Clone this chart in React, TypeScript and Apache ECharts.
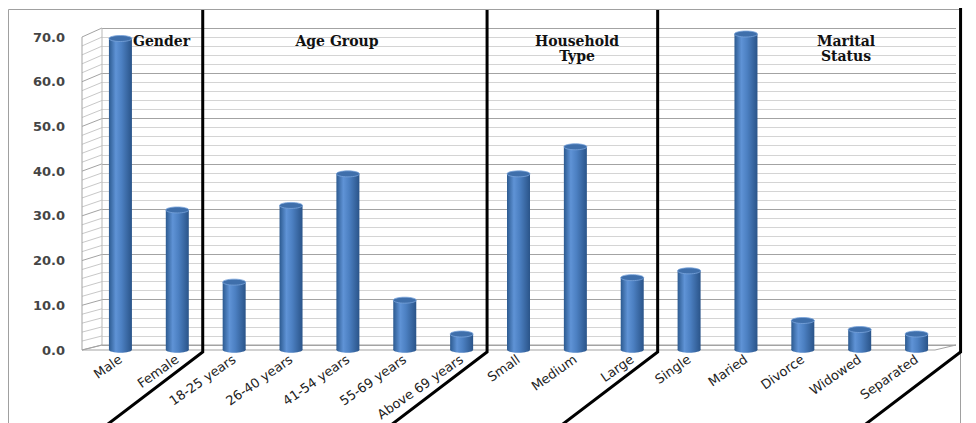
import React, { useEffect, useRef } from "react";
import * as echarts from "echarts";

const categories = [
  "Male", "Female",
  "18-25 years", "26-40 years", "41-54 years", "55-69 years", "Above 69 years",
  "Small", "Medium", "Large",
  "Single", "Maried", "Divorce", "Widowed", "Separated",
];
const values = [69, 31, 15, 32, 39, 11, 3.5, 39, 45, 16, 17.5, 70, 6.5, 4.5, 3.5];
const groupSizes = [2, 5, 3, 5];
const groupTitles = ["Gender", "Age Group", "Household\nType", "Marital\nStatus"];
const yMin = 0;
const yMax = 70;
const yStep = 10;

export default function App() {
  const ref = useRef<HTMLDivElement>(null);

  useEffect(() => {
    document.body.style.margin = "0";
    if (!ref.current) return;
    const chart = echarts.init(ref.current, undefined, { renderer: "svg" });

    const barFill = {
      type: "linear", x: 0, y: 0, x2: 1, y2: 0,
      colorStops: [
        { offset: 0, color: "#2c5a90" },
        { offset: 0.3, color: "#5f93d6" },
        { offset: 0.55, color: "#4c80c2" },
        { offset: 1, color: "#2a5489" },
      ],
    };

    const option: any = {
      animation: false,
      backgroundColor: "#ffffff",
      grid: [
        { left: 102, right: 20, top: 28, bottom: 78 },
        { left: 92, right: 31, top: 34, bottom: 73 },
        { left: 92, right: 31, top: 37, bottom: 73 },
      ],
      xAxis: [
        { type: "value", gridIndex: 0, show: false, min: 0, max: 1 },
        {
          type: "category", gridIndex: 1, data: categories,
          axisLine: { show: false }, axisTick: { show: false },
          axisLabel: {
            interval: 0, rotate: 35, margin: 8,
            fontFamily: "DejaVu Sans", fontSize: 13, color: "#222",
          },
        },
        { type: "value", gridIndex: 2, show: false, min: 0, max: 1 },
      ],
      yAxis: [
        {
          type: "value", gridIndex: 0, min: yMin, max: yMax, interval: yStep,
          axisLabel: { show: false }, axisLine: { show: false }, axisTick: { show: false },
          splitLine: { show: true, lineStyle: { color: "#a3a3a3", width: 1 } },
          minorTick: { show: false, splitNumber: 5 },
          minorSplitLine: { show: true, lineStyle: { color: "#d4d4d4", width: 1 } },
        },
        {
          type: "value", gridIndex: 1, min: yMin, max: yMax, interval: yStep,
          axisLine: { show: false }, axisTick: { show: false }, splitLine: { show: false },
          axisLabel: { show: false },
        },
        {
          type: "value", gridIndex: 2, min: yMin, max: yMax, interval: yStep,
          axisLine: { show: false }, axisTick: { show: false }, splitLine: { show: false },
          axisLabel: {
            margin: 27, fontFamily: "DejaVu Sans", fontSize: 13, fontWeight: "bold",
            color: "#454545", formatter: (v: number) => v.toFixed(1),
          },
        },
      ],
      series: [
        {
          type: "custom",
          xAxisIndex: 1,
          yAxisIndex: 1,
          encode: { x: 0, y: 1 },
          data: values.map((v, i) => [i, v]),
          z: 5,
          renderItem: (params: any, api: any) => {
            const idx = api.value(0);
            const v = api.value(1);
            const top = api.coord([idx, v]);
            const base = api.coord([idx, 0]);
            const w = 23;
            const rx = w / 2;
            const ry = 3;
            return {
              type: "group",
              children: [
                { type: "ellipse", shape: { cx: base[0], cy: base[1], rx, ry }, style: { fill: barFill } },
                { type: "rect", shape: { x: base[0] - rx, y: top[1], width: w, height: base[1] - top[1] }, style: { fill: barFill } },
                { type: "ellipse", shape: { cx: top[0], cy: top[1], rx, ry }, style: { fill: "#3f6fab", stroke: "#7aa4dc", lineWidth: 0.8 } },
              ],
            };
          },
        },
      ],
    };
    chart.setOption(option);

    // Decorations derived from the axes
    const yFront = (v: number) => chart.convertToPixel({ yAxisIndex: 2 }, v) as number;
    const yBack = (v: number) => chart.convertToPixel({ yAxisIndex: 0 }, v) as number;
    const xC = (i: number) => chart.convertToPixel({ xAxisIndex: 1 }, i) as number;
    const frontX = 82;
    const backX = 102;
    const floorFrontRight = 935;
    const backRight = 956;

    const els: any[] = [];
    els.push({
      type: "rect", z: 0, shape: { x: 8.5, y: 9.5, width: 952, height: 420 },
      style: { fill: "none", stroke: "#a0a0a0", lineWidth: 1 },
    });
    for (let v = yMin; v <= yMax; v += 2) {
      els.push({
        type: "line", z: 1,
        shape: { x1: frontX, y1: yFront(v), x2: backX, y2: yBack(v) },
        style: { stroke: v % 10 === 0 ? "#a3a3a3" : "#c8c8c8", lineWidth: 1 },
      });
    }
    els.push({ type: "line", z: 1, shape: { x1: frontX, y1: yFront(yMax), x2: frontX, y2: yFront(0) }, style: { stroke: "#a3a3a3", lineWidth: 1 } });
    els.push({ type: "line", z: 1, shape: { x1: backX, y1: yBack(yMax), x2: backX, y2: yBack(0) }, style: { stroke: "#b8b8b8", lineWidth: 1 } });
    els.push({
      type: "polygon", z: 1,
      shape: { points: [[frontX, yFront(0)], [floorFrontRight, yFront(0)], [backRight, yBack(0)], [backX, yBack(0)]] },
      style: { fill: "none", stroke: "#a3a3a3", lineWidth: 1 },
    });

    // Group separators
    let acc = 0;
    const seps: number[] = [];
    groupSizes.forEach((n, gi) => {
      acc += n;
      if (gi < groupSizes.length - 1) seps.push((xC(acc - 1) + xC(acc)) / 2 - 3);
      else seps.push(xC(acc - 1) + 44);
    });
    seps.forEach((x, i) => {
      const topY = i === seps.length - 1 ? 8 : 10;
      const yb = 352;
      els.push({
        type: "polyline", z: 20,
        shape: { points: [[x, topY], [x, yb], [x - 100, yb + 76]] },
        style: { stroke: "#000", lineWidth: 3, fill: "none" },
      });
    });

    // Group titles
    const titlePos = [
      { x: 133, align: "left" },
      { x: 337, align: "center" },
      { x: 577, align: "center" },
      { x: 846, align: "center" },
    ];
    groupTitles.forEach((t, i) => {
      els.push({
        type: "text", z: 20, x: titlePos[i].x, y: 33,
        style: {
          text: t, fontFamily: "DejaVu Serif", fontSize: 14, fontWeight: "bold",
          lineHeight: 15, fill: "#111",
          align: titlePos[i].align, verticalAlign: "top",
          textAlign: titlePos[i].align, textVerticalAlign: "top",
        },
      });
    });

    chart.setOption({ graphic: { elements: els } });

    return () => chart.dispose();
  }, []);

  return <div ref={ref} style={{ width: 976, height: 423 }} />;
}
